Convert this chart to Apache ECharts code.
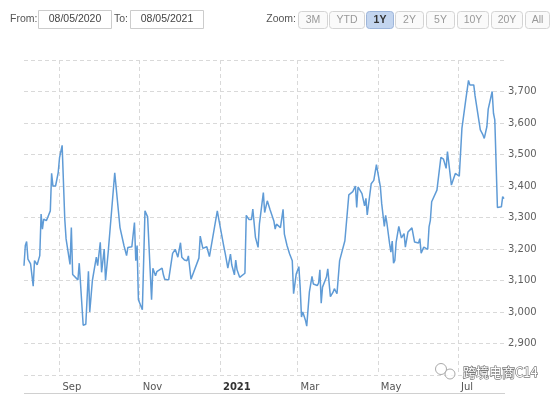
<!DOCTYPE html>
<html>
<head>
<meta charset="utf-8">
<script src="https://cdn.jsdelivr.net/npm/echarts@6/dist/echarts.min.js"></script>
<style>html,body{margin:0;padding:0;background:#fff}#c{width:554px;height:396px}</style>
</head>
<body>
<div id="c"></div>
<script>
// ---- data ----
const dates = [
'2020-08-05','2020-08-06','2020-08-07','2020-08-08','2020-08-10','2020-08-12','2020-08-13','2020-08-15','2020-08-17','2020-08-18',
'2020-08-19','2020-08-20','2020-08-22','2020-08-23','2020-08-25','2020-08-26','2020-08-27','2020-08-29','2020-08-31','2020-09-01',
'2020-09-03','2020-09-05','2020-09-06','2020-09-09','2020-09-10','2020-09-11','2020-09-15','2020-09-16','2020-09-19','2020-09-21',
'2020-09-23','2020-09-24','2020-09-26','2020-09-29','2020-09-30','2020-10-02','2020-10-03','2020-10-05','2020-10-06','2020-10-08',
'2020-10-13','2020-10-17','2020-10-20','2020-10-22','2020-10-23','2020-10-26','2020-10-28','2020-10-29','2020-10-30','2020-10-31',
'2020-11-03','2020-11-05','2020-11-07','2020-11-10','2020-11-11','2020-11-13','2020-11-14','2020-11-18','2020-11-19','2020-11-20',
'2020-11-23','2020-11-26','2020-11-28','2020-11-30','2020-12-02','2020-12-03','2020-12-05','2020-12-07','2020-12-08','2020-12-10',
'2020-12-11','2020-12-16','2020-12-17','2020-12-19','2020-12-22','2020-12-24','2020-12-30','2020-12-31','2021-01-04','2021-01-05',
'2021-01-07','2021-01-09','2021-01-10','2021-01-12','2021-01-13','2021-01-14','2021-01-16','2021-01-20','2021-01-21','2021-01-23',
'2021-01-25','2021-01-26','2021-01-28','2021-01-29','2021-01-30','2021-01-31','2021-02-03','2021-02-04','2021-02-06','2021-02-08',
'2021-02-11','2021-02-12','2021-02-13','2021-02-16','2021-02-18','2021-02-19','2021-02-21','2021-02-23','2021-02-24','2021-02-25',
'2021-02-26','2021-02-28','2021-03-02','2021-03-03','2021-03-04','2021-03-05','2021-03-07','2021-03-08','2021-03-10','2021-03-11',
'2021-03-12','2021-03-13','2021-03-16','2021-03-17','2021-03-18','2021-03-19','2021-03-20','2021-03-23','2021-03-24','2021-03-26',
'2021-03-28','2021-03-29','2021-03-31','2021-04-02','2021-04-06','2021-04-07','2021-04-09','2021-04-12','2021-04-14','2021-04-15',
'2021-04-16','2021-04-19','2021-04-21','2021-04-22','2021-04-23','2021-04-26','2021-04-28','2021-04-30','2021-05-01','2021-05-03',
'2021-05-04','2021-05-06','2021-05-07','2021-05-08','2021-05-10','2021-05-11','2021-05-12','2021-05-13','2021-05-14','2021-05-15',
'2021-05-17','2021-05-19','2021-05-20','2021-05-21','2021-05-22','2021-05-24','2021-05-27','2021-05-29','2021-06-01','2021-06-02',
'2021-06-03','2021-06-05','2021-06-08','2021-06-09','2021-06-10','2021-06-11','2021-06-12','2021-06-15','2021-06-16','2021-06-18',
'2021-06-20','2021-06-22','2021-06-23','2021-06-24','2021-06-26','2021-06-29','2021-06-30','2021-07-02','2021-07-04','2021-07-07',
'2021-07-09','2021-07-10','2021-07-13','2021-07-14','2021-07-15','2021-07-18','2021-07-20','2021-07-21','2021-07-23','2021-07-24',
'2021-07-27','2021-07-28','2021-07-29','2021-07-31','2021-08-03','2021-08-04','2021-08-05'
];
const values = [
3147,3211,3224,3168,3153,3082,3163,3150,3179,3311,
3263,3295,3290,3300,3321,3440,3400,3400,3442,3489,
3529,3295,3232,3151,3268,3119,3102,3155,2958,2961,
3129,3000,3100,3174,3147,3221,3126,3200,3100,3189,
3442,3268,3211,3179,3205,3207,3284,3163,3211,3039,
3007,3321,3302,3039,3139,3115,3128,3139,3118,3104,
3102,3186,3199,3174,3220,3174,3165,3163,3178,3104,
3104,3171,3241,3202,3207,3176,3321,3297,3207,3186,
3139,3184,3149,3118,3165,3134,3110,3123,3307,3294,
3294,3327,3237,3232,3205,3279,3379,3316,3353,3326,
3289,3263,3279,3268,3326,3247,3211,3184,3189,3163,
3058,3121,3144,3079,2984,3000,2974,2955,3063,3060,
3113,3089,3084,3092,3134,3028,3079,3111,3137,3049,
3063,3074,3058,3163,3226,3232,3372,3382,3400,3332,
3397,3376,3337,3361,3308,3407,3418,3468,3472,3397,
3344,3272,3307,3281,3217,3190,3225,3155,3164,3222,
3272,3235,3233,3249,3206,3254,3267,3222,3219,3233,
3187,3206,3199,3270,3291,3350,3350,3387,3389,3491,
3485,3456,3509,3504,3403,3440,3445,3431,3583,3676,
3735,3721,3721,3686,3684,3578,3562,3551,3589,3644,
3700,3631,3610,3332,3334,3366,3360
];
const rangeStart = '2020-08-05';
const rangeEnd = '2021-08-05';
const yMin = 2800, yMax = 3800, yStep = 100;
const monthNames = ['Jan','Feb','Mar','Apr','May','Jun','Jul','Aug','Sep','Oct','Nov','Dec'];
const fromText = '08/05/2020', toText = '08/05/2021';
const zoomButtons = ['3M','YTD','1Y','2Y','5Y','10Y','20Y','All'];
const selectedButton = '1Y';
const watermarkText = '跨境电商C14';

const chart = echarts.init(document.getElementById('c'), null, {renderer: 'canvas'});

// toolbar graphics
const g = [];
const uiFont = '"Liberation Sans", Arial, sans-serif';
const tf = '10.5px ' + uiFont;
g.push({type:'text', x:10, y:19.5, style:{text:'From:', font:tf, fill:'#555', verticalAlign:'middle'}});
g.push({type:'rect', shape:{x:38.5,y:10.5,width:73,height:18}, style:{fill:'#fff', stroke:'#cccccc', lineWidth:1}});
g.push({type:'text', x:75, y:19.5, style:{text:fromText, font:tf, fill:'#444', align:'center', verticalAlign:'middle'}});
g.push({type:'text', x:114, y:19.5, style:{text:'To:', font:tf, fill:'#555', verticalAlign:'middle'}});
g.push({type:'rect', shape:{x:130.5,y:10.5,width:73,height:18}, style:{fill:'#fff', stroke:'#cccccc', lineWidth:1}});
g.push({type:'text', x:167, y:19.5, style:{text:toText, font:tf, fill:'#444', align:'center', verticalAlign:'middle'}});
g.push({type:'text', x:296, y:19.5, style:{text:'Zoom:', font:tf, fill:'#555', align:'right', verticalAlign:'middle'}});
const btnX = [[298,327],[329,364],[366,393],[395,423],[426,454],[457,488],[491,522],[525,549]];
zoomButtons.forEach((b, i) => {
  const sel = b === selectedButton;
  g.push({type:'rect', shape:{x:btnX[i][0]+0.5, y:11.5, width:btnX[i][1]-btnX[i][0], height:17, r:3},
    style:{fill: sel ? '#c3d5ef' : '#fafafa', stroke: sel ? '#9db5da' : '#d4d4d4', lineWidth:1}});
  g.push({type:'text', x:(btnX[i][0]+btnX[i][1])/2 + 0.5, y:20, style:{text:b, font:(sel?'bold ':'') + tf,
    fill: sel ? '#333' : '#999', align:'center', verticalAlign:'middle'}});
});
// bottom separator line
g.push({type:'line', shape:{x1:24, y1:393.5, x2:505, y2:393.5}, style:{stroke:'#d0d0d0', lineWidth:1}});
// watermark
g.push({type:'circle', z:100, shape:{cx:441, cy:369, r:5.5}, style:{fill:'rgba(255,255,255,0.7)', stroke:'#aaa', lineWidth:1}});
g.push({type:'circle', z:100, shape:{cx:450, cy:374, r:5}, style:{fill:'rgba(255,255,255,0.7)', stroke:'#aaa', lineWidth:1}});
g.push({type:'text', x:463, y:372, z:100, style:{text:watermarkText, font:'13px "Noto Sans CJK SC", sans-serif', fill:'#ffffff',
  stroke:'#7a7a7a', lineWidth:1.3, align:'left', verticalAlign:'middle'}});

const option = {
  animation: false,
  backgroundColor: '#ffffff',
  grid: {left: 24, right: 50, top: 60, bottom: 21, containLabel: false},
  xAxis: {
    type: 'time',
    min: rangeStart,
    max: rangeEnd,
    splitNumber: 5,
    axisLine: {show: false},
    axisTick: {show: false},
    splitLine: {show: true, showMinLine: false, showMaxLine: false, lineStyle: {color: '#d9d9d9', type: [4, 3], width: 1}},
    axisLabel: {
      align: 'left',
      margin: 7,
      padding: [0, 0, 0, 3],
      color: '#555',
      fontFamily: '"DejaVu Sans", Verdana, sans-serif',
      fontSize: 10,
      hideOverlap: false,
      showMinLabel: false,
      showMaxLabel: false,
      formatter: function (v) {
        const d = new Date(v);
        if (d.getDate() !== 1) return '';
        if (d.getMonth() === 0) return '{y|' + d.getFullYear() + '}';
        return monthNames[d.getMonth()];
      },
      rich: {y: {fontWeight: 'bold', color: '#333', fontFamily: '"DejaVu Sans", Verdana, sans-serif', fontSize: 10}}
    }
  },
  yAxis: {
    type: 'value',
    position: 'right',
    min: yMin,
    max: yMax,
    interval: yStep,
    axisLine: {show: false},
    axisTick: {show: false},
    splitLine: {show: true, lineStyle: {color: '#d9d9d9', type: [4, 3], width: 1}},
    axisLabel: {
      showMinLabel: false,
      showMaxLabel: false,
      align: 'left',
      margin: 4,
      color: '#606060',
      fontFamily: '"DejaVu Sans", Verdana, sans-serif',
      fontSize: 10,
      formatter: v => v.toLocaleString('en-US')
    }
  },
  series: [{
    type: 'line',
    data: dates.map((d, i) => [d, values[i]]),
    showSymbol: false,
    lineStyle: {color: '#5f9bd6', width: 1.5},
    itemStyle: {color: '#5f9bd6'}
  }],
  graphic: g
};
chart.setOption(option);
</script>
</body>
</html>
